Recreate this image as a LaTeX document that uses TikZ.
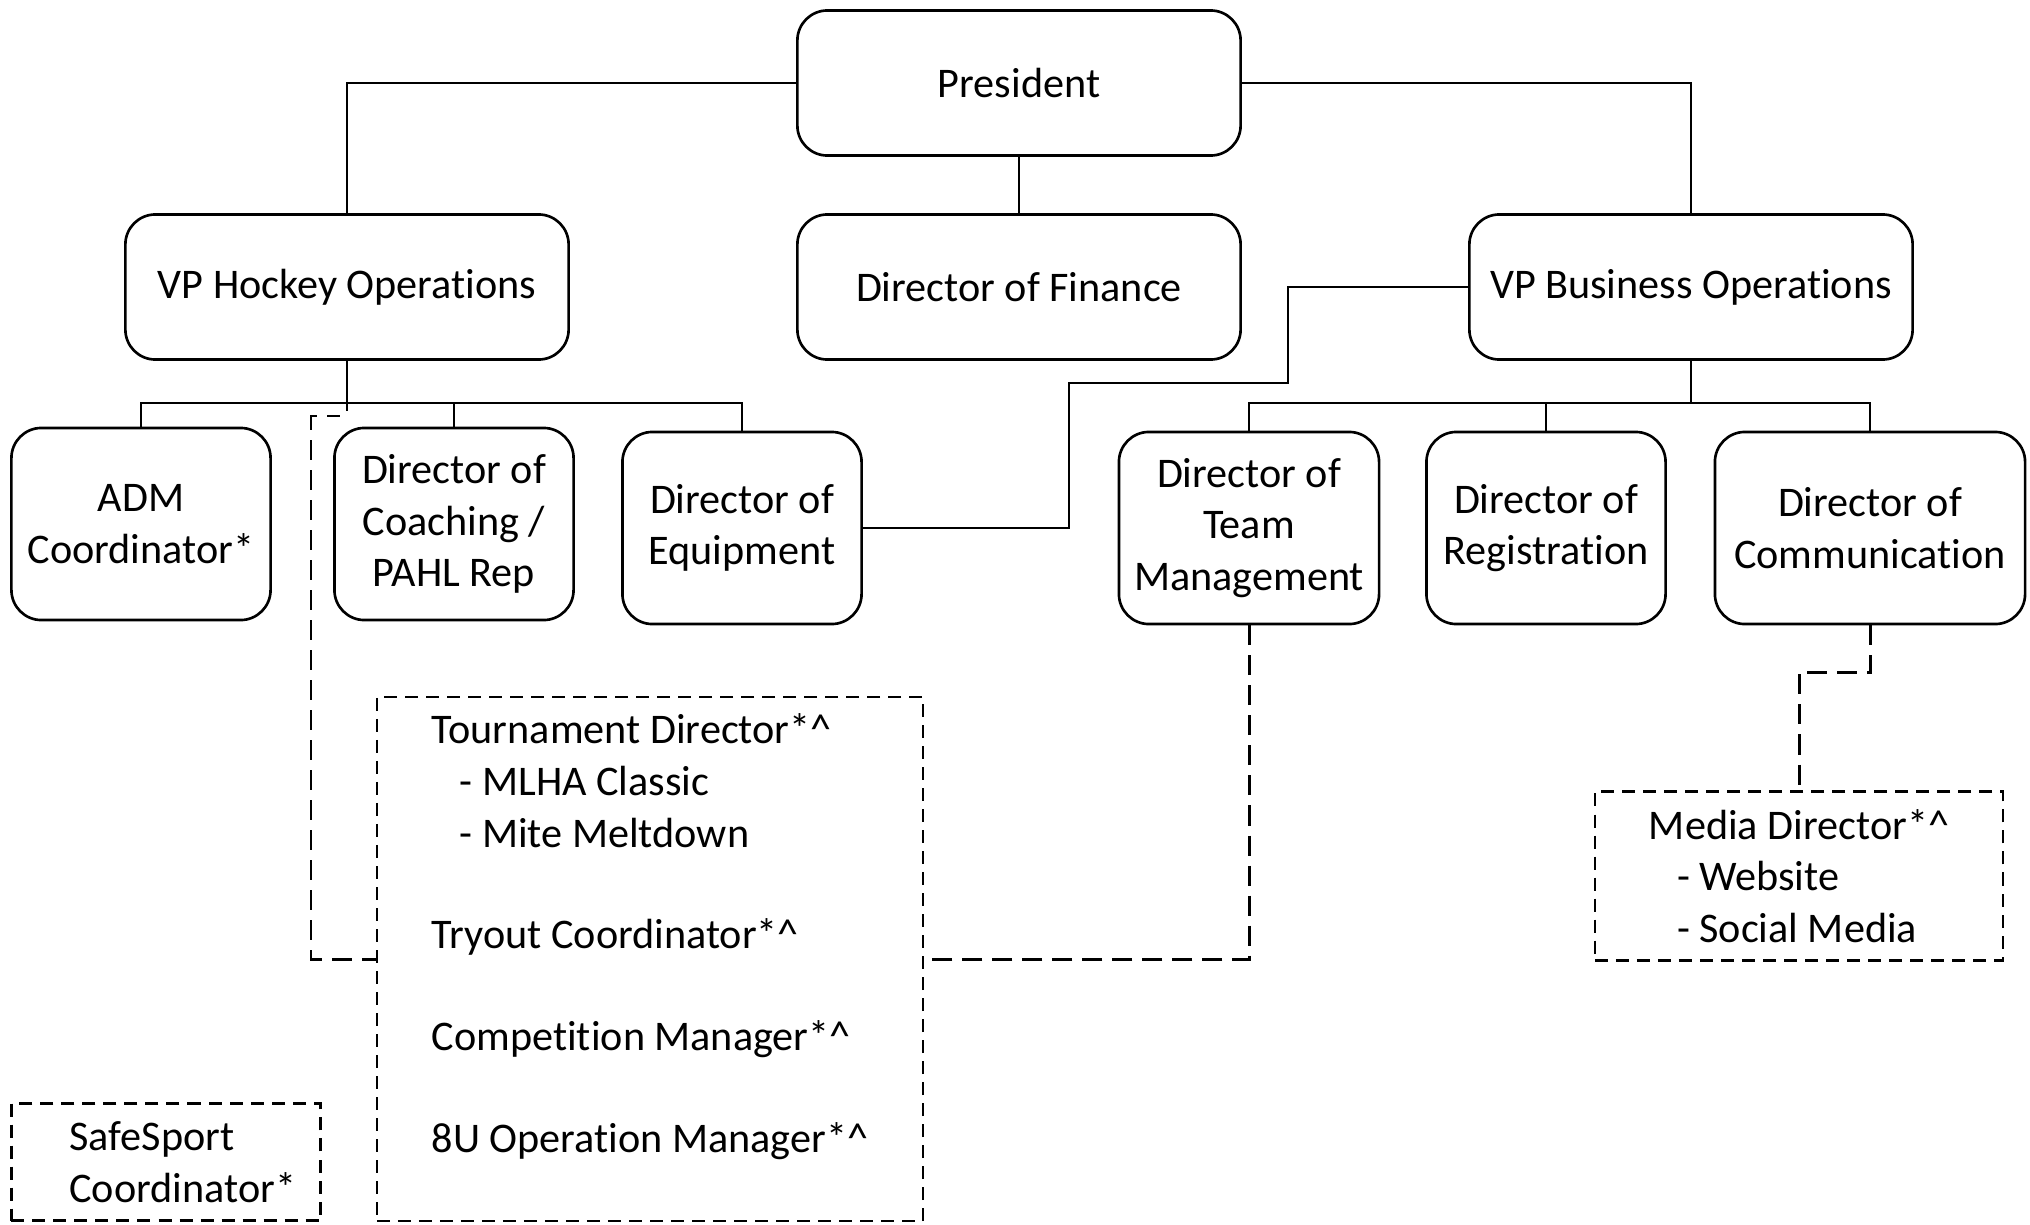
\documentclass[tikz,border=0pt]{standalone}
\usepackage{fontspec}
\setmainfont{Carlito}[Ligatures=CommonOff]

\begin{document}
\begin{tikzpicture}[x=0.01cm,y=-0.01cm,line width=0.75pt,
		every node/.style={font=\fontsize{12}{14.7}\selectfont},
		role/.style={draw,rounded corners=0.3cm,align=center,inner sep=2pt},
		wide/.style={role,minimum width=4.43cm,minimum height=1.45cm},
		tall/.style={role,minimum height=1.92cm},
		helper/.style={draw,dash pattern=on 0.13cm off 0.08cm,fill=white,align=left},
		link/.style={line width=0.85pt,dash pattern=on 0.2cm off 0.1cm}]
		\useasboundingbox (0,0) rectangle (2030,1224);

		% top row
		\node [wide] (pres) at (1019,83) {President};
		\node [wide] (vph) at (347,287) {VP Hockey Operations};
		\node [wide] (fin) at (1019,287) {Director of Finance};
		\node [wide] (vpb) at (1691,287) {VP Business Operations};

		% directors
		\node [tall,minimum width=2.59cm] (adm) at (141,524) {ADM\\Coordinator*};
		\node [tall,minimum width=2.39cm] (coach) at (454,524) {Director of\\Coaching /\\PAHL Rep};
		\node [tall,minimum width=2.39cm] (equip) at (742,528) {Director of\\Equipment};
		\node [tall,minimum width=2.60cm] (team) at (1249,528) {Director of\\Team\\Management};
		\node [tall,minimum width=2.39cm] (reg) at (1546,528) {Director of\\Registration};
		\node [tall,minimum width=3.10cm] (comm) at (1870,528) {Director of\\Communication};

		% president to vps
		\draw (pres.west) -| (vph.north);
		\draw (pres.east) -| (vpb.north);
		\draw (pres.south) -- (fin.north);

		% hockey side
		\coordinate (hbus) at (347,403);
		\coordinate (hstub) at (347,411);
		\draw (vph.south) -- (hstub);
		\draw (adm.north) |- (hbus) -| (equip.north);
		\draw (coach.north) -- (coach.north |- hbus);

		% business side
		\coordinate (bbus) at (1691,403);
		\draw (vpb.south) -- (bbus);
		\draw (team.north) |- (bbus) -| (comm.north);
		\draw (reg.north) -- (reg.north |- bbus);

		% equipment to vp business
		\draw (equip.east) -| (1069,383) -| (1288,287) -- (vpb.west);

		% team management to hockey side
		\coordinate (hjoin) at (340,416);
		\draw [link] (team.south) |- (311,959) |- (hjoin);

		% dashed boxes
		\node [helper,minimum width=5.46cm,minimum height=5.24cm] (tasks) at (650,959) {Tournament Director*\textasciicircum\\
			\hspace*{0.28cm}- MLHA Classic\\
			\hspace*{0.28cm}- Mite Meltdown\\[0.5cm]
			Tryout Coordinator*\textasciicircum\\[0.5cm]
			Competition Manager*\textasciicircum\\[0.5cm]
			8U Operation Manager*\textasciicircum\\};
		\node [helper,minimum width=4.08cm,minimum height=1.69cm] (media) at (1799,876) {Media Director*\textasciicircum\\
			\hspace*{0.28cm}- Website\\
			\hspace*{0.28cm}- Social Media};
		\node [helper,text width=1.93cm,inner xsep=0.58cm,minimum height=1.17cm] (safe) at (166,1162) {SafeSport\\Coordinator*};

		\draw [link] (comm.south) |- (1799,672) -- (media.north);

\end{tikzpicture}
\end{document}
